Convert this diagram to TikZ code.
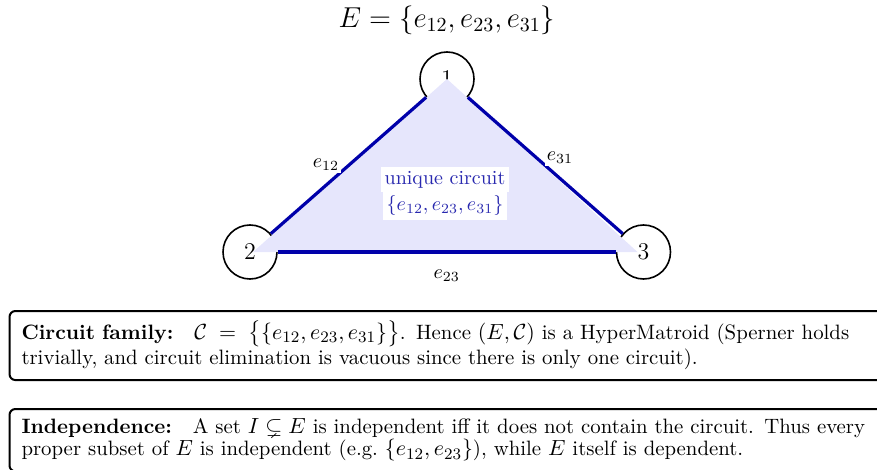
\documentclass[tikz,border=0pt]{standalone}
\usepackage{amsmath,amssymb}
\usepackage{fontspec}
\DeclareMathSizes{10.4}{10.95}{8}{6}
\definecolor{edgeblue}{RGB}{0,0,170}
\definecolor{textblue}{RGB}{40,40,175}
\definecolor{fillblue}{RGB}{230,230,252}
\newcommand{\boxfont}{\fontsize{10.4}{11}\selectfont}
\tikzset{
  vert/.style={circle,draw=black,line width=0.8pt,minimum size=27pt,inner sep=0pt,font=\large},
  hedge/.style={draw=edgeblue,line width=1.6pt},
  elabel/.style={fill=white,inner sep=1pt,font=\normalsize},
  clabel/.style={fill=white,text=textblue,inner sep=2pt},
  infobox/.style={draw=black,line width=1pt,rounded corners=3pt,inner xsep=6pt,inner ysep=5pt,
    text width=440pt,align=left,font=\boxfont,anchor=north west},
}
\begin{document}
\begin{tikzpicture}[x=0.5pt,y=-0.5pt]
\useasboundingbox (0,0) rectangle (877,470);
\node (title) at (447,20) {\Large $E=\{e_{12},e_{23},e_{31}\}$};
\node[vert] (n1) at (447,79) {1};
\node[vert] (n2) at (250,252) {2};
\node[vert] (n3) at (643.5,252) {3};
\fill[fillblue] (n1.center) -- ([xshift=1.5pt]n2.center) -- ([xshift=-3pt]n3.center) -- cycle;
\draw[hedge] (n2) -- (n1) node[elabel,pos=0.45,anchor=south east,xshift=1pt,yshift=-1pt] (l12) {$e_{12}$};
\draw[hedge] (n1) -- (n3) node[elabel,pos=0.5,anchor=south west,xshift=-1pt,yshift=-1pt] (l31) {$e_{31}$};
\draw[hedge] (n2) -- (n3) node[midway,below=5pt] (l23) {$e_{23}$};
\node[clabel] (uc) at (445,179.5) {unique circuit};
\node[clabel] (ucset) at (445,206) {$\{e_{12},e_{23},e_{31}\}$};
\node[infobox] (box1) at (8.5,310) {\textbf{Circuit family:}\quad $\mathcal{C}\;=\;\bigl\{\{e_{12},e_{23},e_{31}\}\bigr\}$. Hence $(E,\mathcal{C})$ is a HyperMatroid (Sperner holds\\
trivially, and circuit elimination is vacuous since there is only one circuit).};
\node[infobox] (box2) at (8.5,408) {\textbf{Independence:}\quad A set $I\subsetneq E$ is independent iff it does not contain the circuit. Thus every\\
proper subset of $E$ is independent (e.g.\ $\{e_{12},e_{23}\}$), while $E$ itself is dependent.};
\end{tikzpicture}
\end{document}
